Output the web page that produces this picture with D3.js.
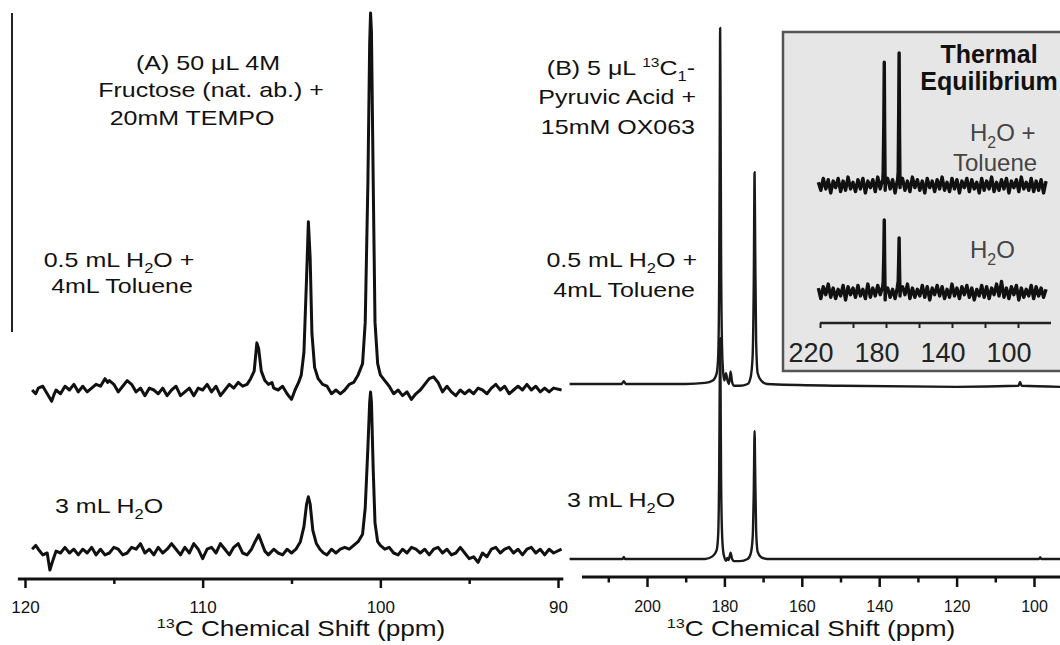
<!DOCTYPE html>
<html>
<head>
<meta charset="utf-8">
<script src="https://cdn.jsdelivr.net/npm/d3@7"></script>
<style>
body { margin: 0; background: #fff; }
svg { display: block; font-family: "Liberation Sans", Arial, sans-serif; }
</style>
</head>
<body>
<svg id="chart" width="1060" height="645"></svg>
<script>
// tick values
var aTicks = [120, 110, 100, 90];
var aMinor = [115, 105, 95];
var bTicks = [200, 180, 160, 140, 120, 100];
var bMinor = [210, 190, 170, 150, 130, 110];
var insetTicks = [220, 200, 180, 160, 140, 120, 100];
var insetLabels = [220, 180, 140, 100];

// panel A, [ppm, intensity in % of the tallest peak]
var aTop = [
  [119.6,0],[119.4,-1],[119.25,0.5],[119,1],[118.75,-1],[118.5,-3],[118.35,-1],[118.25,0],[118,-1],[117.75,1],
  [117.5,0],[117.25,1.5],[117,-0.5],[116.75,1],[116.5,-0.5],[116.25,0.5],[116,1.5],[115.75,1],[115.5,3],[115.35,2],
  [115.25,2.5],[115,1.5],[114.75,-0.5],[114.5,1],[114.25,2.5],[114,1.5],[113.75,-0.5],[113.5,0.5],[113.25,-1.5],[113,0.5],
  [112.75,0],[112.5,-1],[112.25,0.5],[112,-1.5],[111.75,0],[111.5,1],[111.25,-1.5],[111,-0.5],[110.75,0.5],[110.5,-1.5],
  [110.25,0.5],[110,0],[109.75,1.5],[109.5,-0.5],[109.25,1],[109,-1.5],[108.75,0],[108.5,1.5],[108.25,0.5],[108,2],
  [107.75,1],[107.5,1.5],[107.3,3],[107.1,5],[106.95,12.5],[106.85,11],[106.7,5],[106.5,2.5],[106.3,1.5],[106.1,2],
  [106,0.5],[105.75,0],[105.5,1],[105.25,-1],[105,-2.5],[104.8,0],[104.6,2],[104.45,4],[104.3,10],[104.15,30],
  [104.05,44.6],[103.95,35],[103.85,15],[103.7,6],[103.5,3],[103.25,1.5],[103,1],[102.75,-1],[102.5,0],[102.25,-1],
  [102,0],[101.75,1.5],[101.5,2],[101.25,4],[101,7],[100.85,18],[100.7,55],[100.6,92],[100.55,100],[100.5,95],
  [100.4,55],[100.3,18],[100.15,7],[100,4],[99.75,2.5],[99.5,1],[99.25,-1],[99,0],[98.75,-1.5],[98.5,-0.5],
  [98.25,-2.5],[98,-1],[97.75,0],[97.5,1.5],[97.25,3],[97,3.5],[96.75,2],[96.5,-0.5],[96.25,1],[96,-0.5],
  [95.75,-1.5],[95.5,0],[95.25,-1],[95,0],[94.75,-1],[94.5,0.5],[94.25,0],[94,-1],[93.75,0.5],[93.5,1.5],
  [93.25,0],[93,1],[92.75,-1],[92.5,0],[92.25,1],[92,0],[91.75,1.5],[91.5,0],[91.25,1],[91,-0.5],
  [90.75,0.5],[90.5,-0.5],[90.25,0.5],[89.8,0]
];
var aBottom = [
  [119.6,1],[119.4,2],[119.25,1],[119,-0.5],[118.75,0],[118.6,-4.5],[118.4,-1.5],[118.25,0.5],[118,0],[117.75,1.5],
  [117.5,0],[117.25,1],[117,-0.5],[116.75,1],[116.5,0],[116.25,1.5],[116,-0.5],[115.75,1],[115.5,-0.5],[115.25,0],
  [115,1.5],[114.75,1],[114.5,-0.5],[114.25,0],[114,1.5],[113.75,1],[113.5,2.5],[113.25,0],[113,1],[112.75,-0.5],
  [112.5,1.5],[112.25,0],[112,1],[111.75,2.5],[111.5,1],[111.25,-0.5],[111,1.5],[110.75,0],[110.5,2.5],[110.25,1],
  [110,-1.5],[109.75,1],[109.5,1.5],[109.25,0],[109,2.5],[108.75,1],[108.5,-0.5],[108.25,1.5],[108,2.5],[107.75,0],
  [107.5,-0.5],[107.25,1],[107.05,3],[106.85,4.8],[106.7,3],[106.5,0.5],[106.3,-0.5],[106,1],[105.75,0],[105.5,-0.5],
  [105.25,1],[105,0],[104.75,1],[104.5,3],[104.3,7],[104.15,13],[104.05,14.9],[103.95,13],[103.8,6],[103.6,2.5],
  [103.4,1],[103.2,0],[103,-0.5],[102.75,1],[102.5,0],[102.25,1],[102,1.5],[101.75,1],[101.5,2],[101.25,3],
  [101,5],[100.85,12],[100.7,28],[100.6,40],[100.55,42.7],[100.5,40],[100.4,22],[100.3,8],[100.15,3],[100,2],
  [99.75,1],[99.5,1.5],[99.25,0],[99,-0.5],[98.75,1],[98.5,0],[98.25,1.5],[98,1],[97.75,0],[97.5,1],
  [97.25,-0.5],[97,1],[96.75,1.5],[96.5,0],[96.25,1],[96,-0.5],[95.75,0],[95.5,1.5],[95.25,0],[95,-1.5],
  [94.75,-1],[94.5,-2.5],[94.25,0],[94,-1],[93.75,1],[93.5,1.5],[93.25,0],[93,1],[92.75,1.5],[92.5,0],
  [92.25,1],[92,-0.5],[91.75,1],[91.5,1.5],[91.25,0],[91,1],[90.75,-0.5],[90.5,1],[90.25,0],[89.8,1]
];

// panel B
var bTop = [
  [220,0],[206.5,0],[206,0.8],[205.5,0],[190,0],[185,0.3],[183,1],[182,3],[181.6,8],[181.35,30],
  [181.2,70],[181.1,100],[181,80],[180.85,35],[180.6,10],[180.3,3],[180,1],[179.6,3],[179.2,1],[178.8,0],
  [178.4,3.5],[178,0.5],[177.5,-0.5],[176,-0.5],[174,0],[173.2,2],[172.7,8],[172.4,30],[172.2,59.5],[172.05,40],
  [171.8,12],[171.4,3],[170.5,1],[169,0],[150,-0.5],[120,-0.8],[104,-0.5],[103.6,0.6],[103.2,-0.5],[93,-0.8]
];
var bBottom = [
  [220,0],[206.3,0],[206,0.6],[205.7,0],[185,0],[183,0.8],[182,2.5],[181.6,7],[181.35,25],[181.2,50],
  [181.1,62],[181,50],[180.85,22],[180.6,7],[180.3,2],[180,0.5],[179.6,-0.5],[179.2,0.3],[178.9,-0.3],[178.4,1.8],
  [178,0],[177.5,-0.6],[176,-0.6],[174,0],[173.2,1.5],[172.7,6],[172.4,20],[172.2,36],[172.05,25],[171.8,8],
  [171.4,2],[170.5,0.5],[169,0],[140,0],[110,0],[98.7,0],[98.4,0.5],[98.1,0],[93,0]
];

// inset, noise read every 1.5 ppm from 221 ppm, plus peaks
var insetStart = 221, insetStep = 1.5;
var insetNoiseTop = [2,-4,5,-3,4,-6,3,-2,5,-5,3,-4,6,-3,2,-5,4,-3,5,-6,3,-2,4,-5,6,-3,2,-4,5,-3,4,-6,3,-2,5,-4,3,-5,6,-2,4,-4,3,-6,5,-2,3,-5,4,-3,6,-4,2,-5,5,-3,4,-6,3,-2,5,-5,4,-3,2,-6,5,-4,3,-3,6,-5,2,-4,4,-3,5,-6,3,-2,4,-5,6,-3,2,-4,5,-5,3,-4,4,-6,3];
var insetPeaksTop = [[182.3,3],[181.7,10],[181.3,50],[181.05,93],[180.8,40],[180.3,2],
                     [173.2,3],[172.6,10],[172.3,55],[172.05,100],[171.8,40],[171.3,2]];
var insetNoiseBottom = [3,-5,4,-2,6,-4,3,-5,2,-3,5,-6,4,-2,3,-4,5,-3,2,-5,6,-4,3,-3,5,-2,4,-6,3,-4,2,-5,5,-3,4,-2,6,-5,3,-4,2,-3,5,-4,4,-6,3,-2,5,-3,4,-5,2,-4,6,-3,3,-5,4,-2,5,-4,3,-6,2,-3,5,-4,4,-5,3,-2,6,-3,8,-4,3,-5,4,-2,5,-6,3,-4,2,-3,5,-5,4,-3,3,-4,2];
var insetPeaksBottom = [[182.3,3],[181.7,8],[181.3,30],[181.05,54.5],[180.8,22],[180.3,2],
                        [173.2,3],[172.6,8],[172.3,25],[172.05,41],[171.8,18],[171.3,2]];

var labels = [
  {x:208, y:70, a:"middle", parts:[["(A) 50 μL 4M"]]},
  {x:211, y:97, a:"middle", parts:[["Fructose (nat. ab.) +"]]},
  {x:192, y:125, a:"middle", parts:[["20mM TEMPO"]]},
  {x:119, y:267, a:"middle", parts:[["0.5 mL H"],["2","sub"],["O +"]]},
  {x:122, y:293, a:"middle", parts:[["4mL Toluene"]]},
  {x:55, y:513, a:"start", parts:[["3 mL H"],["2","sub"],["O"]]},
  {x:695, y:75, a:"end", parts:[["(B) 5 μL "],["13","sup"],["C"],["1","sub"],["-"]]},
  {x:696, y:104, a:"end", parts:[["Pyruvic Acid +"]]},
  {x:695, y:134, a:"end", parts:[["15mM OX063"]]},
  {x:697, y:267, a:"end", parts:[["0.5 mL H"],["2","sub"],["O +"]]},
  {x:695, y:297, a:"end", parts:[["4mL Toluene"]]},
  {x:567, y:507, a:"start", parts:[["3 mL H"],["2","sub"],["O"]]},
  {x:301, y:636, a:"middle", size:22, parts:[["13","sup"],["C Chemical Shift (ppm)"]]},
  {x:811, y:636, a:"middle", size:22, parts:[["13","sup"],["C Chemical Shift (ppm)"]]}
];
var insetText = [
  {x:989, y:63, a:"middle", size:25, bold:true, sx:1, parts:[["Thermal"]]},
  {x:989, y:90, a:"middle", size:25, bold:true, sx:1, parts:[["Equilibrium"]]},
  {x:970, y:141, a:"start", size:24, sx:1, color:"#444", parts:[["H"],["2","sub"],["O +"]]},
  {x:953, y:171, a:"start", size:24, sx:1, color:"#444", parts:[["Toluene"]]},
  {x:970, y:258, a:"start", size:24, sx:1, color:"#444", parts:[["H"],["2","sub"],["O"]]}
];

var svg = d3.select("#chart");

var xA = d3.scaleLinear().domain([120, 90]).range([25, 558]);
var xB = d3.scaleLinear().domain([200, 100]).range([647, 1034]);
var xI = d3.scaleLinear().domain([220, 100]).range([820, 1018]);

function yScale(base, top) {
  return d3.scaleLinear().domain([0, 100]).range([base, top]);
}
var yATop = yScale(390, 13), yABot = yScale(553, 176);
var yBTop = yScale(384, 28), yBBot = yScale(559, 203);
var yITop = yScale(185, 53), yIBot = yScale(292, 160);

function drawTrace(data, x, y, w, curve, color) {
  var line = d3.line()
    .x(d => x(d[0]))
    .y(d => y(d[1]))
    .curve(curve || d3.curveLinear);
  svg.append("path")
    .attr("d", line(data))
    .attr("fill", "none")
    .attr("stroke", color || "#111")
    .attr("stroke-width", w)
    .attr("stroke-linejoin", "round");
}

function insetSeries(noise, peaks) {
  var pts = noise.map((v, i) => [insetStart - i * insetStep, v]);
  return pts.concat(peaks).sort((p, q) => q[0] - p[0]);
}

function addLabel(L) {
  var size = L.size || 21;
  var t = svg.append("text")
    .attr("transform", "translate(" + L.x + "," + L.y + ") scale(" + (L.sx || 1.19) + ",1)")
    .attr("text-anchor", L.a)
    .attr("font-size", size)
    .attr("font-weight", L.bold ? "bold" : "normal")
    .attr("fill", L.color || "#111");
  var shift = 0;
  L.parts.forEach(p => {
    var s = t.append("tspan").text(p[0]);
    var want = 0;
    if (p[1] === "sub") { want = size * 0.28; s.attr("font-size", size * 0.66); }
    if (p[1] === "sup") { want = -size * 0.36; s.attr("font-size", size * 0.62); }
    if (want !== shift) s.attr("dy", want - shift);
    shift = want;
  });
}

// left edge rule
svg.append("line").attr("x1", 12).attr("x2", 12).attr("y1", 13).attr("y2", 332)
  .attr("stroke", "#222").attr("stroke-width", 2);

// axes
function drawAxis(x, y0, major, minor, lo, hi, size, pad, fs) {
  svg.append("line")
    .attr("x1", x(lo)).attr("x2", x(hi)).attr("y1", y0).attr("y2", y0)
    .attr("stroke", "#111").attr("stroke-width", 3);
  var g = svg.append("g").attr("transform", "translate(0," + y0 + ")")
    .call(d3.axisBottom(x).tickValues(major).tickSize(size).tickPadding(pad).tickFormat(d3.format("d")));
  g.select(".domain").remove();
  g.selectAll("line").attr("stroke", "#111").attr("stroke-width", 2.5);
  g.selectAll("text").attr("font-size", fs).attr("fill", "#111")
    .attr("font-family", "Liberation Sans, Arial, sans-serif");
  var m = svg.append("g").attr("transform", "translate(0," + y0 + ")")
    .call(d3.axisBottom(x).tickValues(minor).tickSize(size * 0.55).tickFormat(""));
  m.select(".domain").remove();
  m.selectAll("line").attr("stroke", "#111").attr("stroke-width", 2.5);
}
drawAxis(xA, 579, aTicks, aMinor, 120.4, 89.7, 9, 13, 17);
drawAxis(xB, 577, bTicks, bMinor, 216.8, 93, 10, 14, 16);

// spectra
drawTrace(aTop, xA, yATop, 3);
drawTrace(aBottom, xA, yABot, 3);
drawTrace(bTop, xB, yBTop, 2.4, d3.curveMonotoneX, "#1a1a1a");
drawTrace(bBottom, xB, yBBot, 2.4, d3.curveMonotoneX, "#1a1a1a");

// inset
svg.append("rect").attr("x", 783).attr("y", 32).attr("width", 300).attr("height", 339)
  .attr("fill", "#e6e6e6").attr("stroke", "#555").attr("stroke-width", 2.5);
drawTrace(insetSeries(insetNoiseTop, insetPeaksTop), xI, yITop, 3.4);
drawTrace(insetSeries(insetNoiseBottom, insetPeaksBottom), xI, yIBot, 3.4);

svg.append("line").attr("x1", xI(220)).attr("x2", xI(80)).attr("y1", 323).attr("y2", 323)
  .attr("stroke", "#222").attr("stroke-width", 2.5);
var ia = svg.append("g").attr("transform", "translate(0,323)")
  .call(d3.axisBottom(xI).tickValues(insetTicks).tickSize(5).tickFormat(""));
ia.select(".domain").remove();
ia.selectAll("line").attr("stroke", "#222").attr("stroke-width", 2);
svg.selectAll(".ilab").data(insetLabels).enter().append("text")
  .attr("class", "ilab")
  .attr("x", d => xI(d) - 9)
  .attr("y", 362)
  .attr("text-anchor", "middle")
  .attr("font-size", 27)
  .attr("fill", "#222")
  .text(d => d);

labels.forEach(addLabel);
insetText.forEach(addLabel);
</script>
</body>
</html>
